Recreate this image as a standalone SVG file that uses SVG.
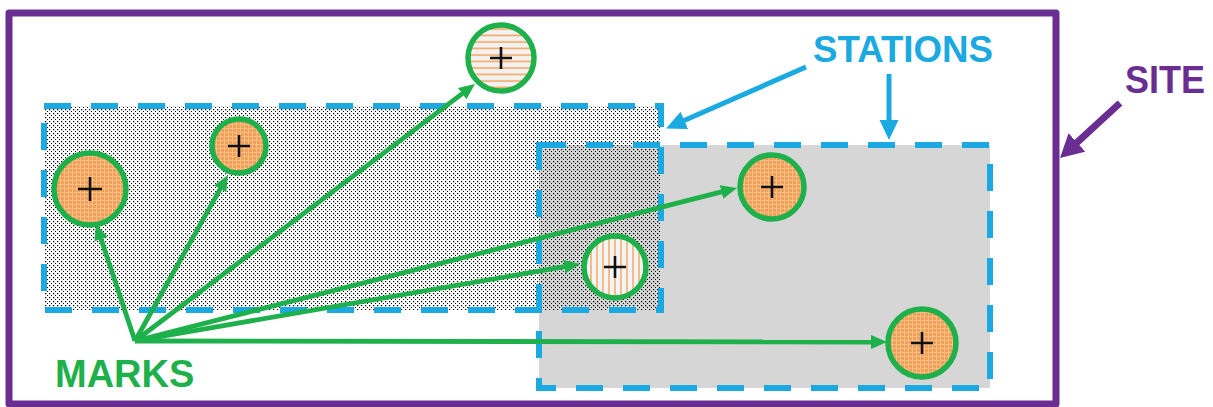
<svg xmlns="http://www.w3.org/2000/svg" width="1213" height="407" viewBox="0 0 1213 407">
  <style>
    .lbl { font-family: "Liberation Sans", Arial, sans-serif; font-weight: bold; }
    .station { fill: none; stroke: #1aa9e0; stroke-width: 6; stroke-dasharray: 27 20; }
    .mark { stroke: #1db04b; stroke-width: 5.5; }
    .plus { stroke: #111; stroke-width: 2.6; fill: none; }
    .garrow { stroke: #1db04b; stroke-width: 4.8; fill: none; marker-end: url(#mg); }
    .barrow { stroke: #1aa9e0; stroke-width: 5; fill: none; marker-end: url(#mb); }
    .parrow { stroke: #6a2d91; stroke-width: 7; fill: none; marker-end: url(#mp); }
  </style>
  <defs>
    <pattern id="dots" width="4" height="4" patternUnits="userSpaceOnUse">
      <rect x="1" y="1" width="1.25" height="1.25" fill="#000"/>
      <rect x="3" y="3" width="1.25" height="1.25" fill="#000"/>
    </pattern>
    <pattern id="cross" width="4" height="4" patternUnits="userSpaceOnUse">
      <rect width="4" height="4" fill="#f0a057"/>
      <path d="M0,0.5 H4 M0.5,0 V4" stroke="#f8c38e" stroke-width="0.8"/>
    </pattern>
    <pattern id="hstripe" width="6.5" height="6.5" patternUnits="userSpaceOnUse">
      <rect width="6.5" height="6.5" fill="#f2f2f2"/>
      <path d="M0,3 H6.5" stroke="#f5a55e" stroke-width="1.6"/>
    </pattern>
    <pattern id="vstripe" width="6" height="6" patternUnits="userSpaceOnUse">
      <rect width="6" height="6" fill="#f4f4f4"/>
      <path d="M3,0 V6" stroke="#f5a55e" stroke-width="1.4"/>
    </pattern>
    <marker id="mg" markerUnits="userSpaceOnUse" markerWidth="17" markerHeight="15" refX="3" refY="7" orient="auto">
      <path d="M0,0 L16,7 L0,14 z" fill="#1db04b"/>
    </marker>
    <marker id="mb" markerUnits="userSpaceOnUse" markerWidth="20" markerHeight="20" refX="4" refY="9.5" orient="auto">
      <path d="M0,0 L20,9.5 L0,19 z" fill="#1aa9e0"/>
    </marker>
    <marker id="mp" markerUnits="userSpaceOnUse" markerWidth="24" markerHeight="26" refX="5" refY="12.5" orient="auto">
      <path d="M0,0 L23,12.5 L0,25 z" fill="#6a2d91"/>
    </marker>
  </defs>

  <rect width="1213" height="407" fill="#fff"/>

  <g id="site">
    <rect x="9" y="13" width="1047" height="391" fill="none" stroke="#6a2d91" stroke-width="7" stroke-linejoin="round"/>
    <text class="lbl" x="1125" y="93" font-size="38" fill="#6a2d91" textLength="80" lengthAdjust="spacingAndGlyphs">SITE</text>
  </g>

  <g id="stations">
    <rect id="station2-fill" x="539" y="145" width="451" height="243" fill="#d6d6d6"/>
    <rect id="station1-fill" x="44" y="106" width="617" height="204" fill="url(#dots)"/>
    <rect id="station1" class="station" x="44" y="106" width="617" height="204"/>
    <rect id="station2" class="station" x="539" y="145" width="451" height="243"/>
    <text class="lbl" x="813" y="62" font-size="37" fill="#1aa9e0" textLength="180" lengthAdjust="spacingAndGlyphs">STATIONS</text>
  </g>

  <g id="connectors">
    <line class="garrow" x1="135" y1="341" x2="100.1" y2="236.3"/>
    <line class="garrow" x1="135" y1="341" x2="221.6" y2="186.3"/>
    <line class="garrow" x1="135" y1="341" x2="464.6" y2="91.8"/>
    <line class="garrow" x1="135" y1="341" x2="567.2" y2="266.2"/>
    <line class="garrow" x1="135" y1="341" x2="724.4" y2="191.2"/>
    <line class="garrow" x1="135" y1="341" x2="874" y2="342"/>
    <line class="barrow" x1="806" y1="67" x2="680.7" y2="122"/>
    <line class="barrow" x1="889" y1="74" x2="889" y2="124"/>
    <line class="parrow" x1="1120" y1="103" x2="1073.3" y2="145.8"/>
  </g>

  <g id="mark1">
    <circle class="mark" cx="90" cy="189" r="36" fill="url(#cross)"/>
    <path class="plus" d="M78,189 H102 M90,177 V201"/>
  </g>
  <g id="mark2">
    <circle class="mark" cx="239" cy="146" r="27" fill="url(#cross)"/>
    <path class="plus" d="M228,146 H250 M239,135 V157"/>
  </g>
  <g id="mark3">
    <circle class="mark" cx="501" cy="58" r="33" fill="url(#hstripe)"/>
    <path class="plus" d="M490,58 H512 M501,47 V69"/>
  </g>
  <g id="mark4">
    <circle class="mark" cx="615" cy="267" r="31" fill="url(#vstripe)"/>
    <path class="plus" d="M604,267 H626 M615,256 V278"/>
  </g>
  <g id="mark5">
    <circle class="mark" cx="772" cy="187" r="32" fill="url(#cross)"/>
    <path class="plus" d="M761,187 H783 M772,176 V198"/>
  </g>
  <g id="mark6">
    <circle class="mark" cx="922" cy="343" r="34" fill="url(#cross)"/>
    <path class="plus" d="M911,343 H933 M922,332 V354"/>
  </g>

  <text class="lbl" x="55" y="387" font-size="38" fill="#1db04b">MARKS</text>
</svg>
